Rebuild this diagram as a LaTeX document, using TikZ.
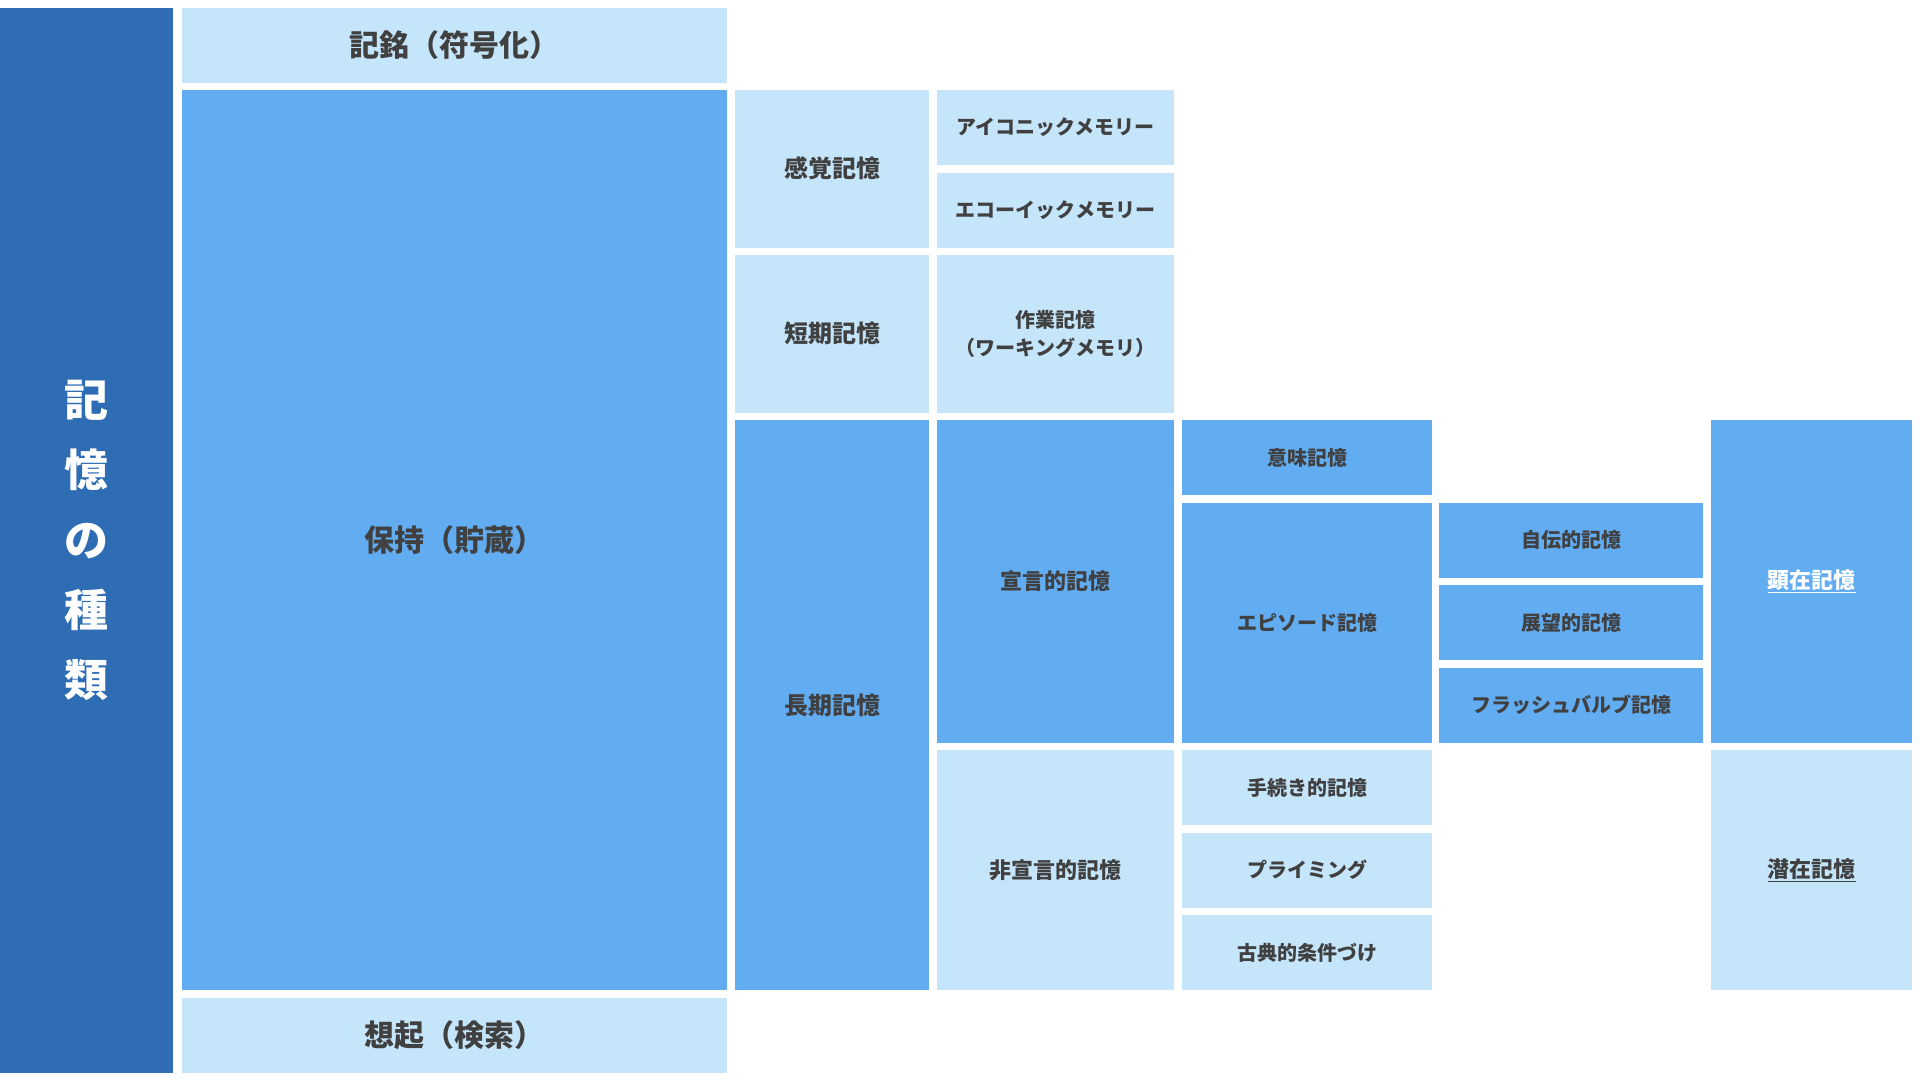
\documentclass[tikz,border=0pt]{standalone}
\usepackage{fontspec}
\setmainfont{Noto Sans CJK JP}
\definecolor{bardark}{HTML}{2E6DB4}
\definecolor{boxmid}{HTML}{62ADF2}
\definecolor{boxlite}{HTML}{C5E5FA}
\definecolor{inkgray}{HTML}{404040}
\tikzset{
	cell/.style={rectangle, inner sep=0pt, align=center, text=inkgray,
		font=\bfseries\fontsize{20}{28}\selectfont},
	mid/.style={cell, fill=boxmid},
	lite/.style={cell, fill=boxlite},
	huge/.style={font=\bfseries\fontsize{30}{36}\selectfont},
	large/.style={font=\bfseries\fontsize{24}{30}\selectfont},
	medium/.style={font=\bfseries\fontsize{22}{28}\selectfont},
	bar/.style={rectangle, inner sep=0pt, align=center, fill=bardark, text=white,
		font=\bfseries\fontsize{44}{70}\selectfont}
}

\begin{document}
\begin{tikzpicture}[x=1pt, y=-1pt]
	\useasboundingbox (0,0) rectangle (1920,1080);
	\begin{scope}
		% title bar
		\node[bar, minimum width=173pt, minimum height=1065pt] (title) at (86.5, 540) {記\\憶\\の\\種\\類};

		% stages
		\node[lite, huge, minimum width=545pt, minimum height=75pt ] (kimei) at (454.5, 45)  {記銘（符号化）};
		\node[mid,  huge, minimum width=545pt, minimum height=900pt] (hoji)  at (454.5, 540) {保持（貯蔵）};
		\node[lite, huge, minimum width=545pt, minimum height=75pt ] (soki)  at (454.5, 1035) {想起（検索）};

		% storage
		\node[lite, large, minimum width=194pt, minimum height=157.5pt] (kankaku) at (832, 168.75) {感覚記憶};
		\node[lite, large, minimum width=194pt, minimum height=157.5pt] (tanki)   at (832, 333.75) {短期記憶};
		\node[mid,  large, minimum width=194pt, minimum height=570pt  ] (choki)   at (832, 705)    {長期記憶};

		\node[lite,         minimum width=237pt, minimum height=75pt   ] (iconic)  at (1055.5, 127.5)  {アイコニックメモリー};
		\node[lite,         minimum width=237pt, minimum height=75pt   ] (echoic)  at (1055.5, 210)    {エコーイックメモリー};
		\node[lite,         minimum width=237pt, minimum height=157.5pt] (sagyo)   at (1055.5, 333.75) {作業記憶\\（ワーキングメモリ）};
		\node[mid,  medium, minimum width=237pt, minimum height=322.5pt] (sengen)  at (1055.5, 581.25) {宣言的記憶};
		\node[lite, medium, minimum width=237pt, minimum height=240pt  ] (hisengen) at (1055.5, 870)   {非宣言的記憶};

		% long-term details
		\node[mid,  minimum width=250pt, minimum height=75pt ] (imi)      at (1307, 457.5) {意味記憶};
		\node[mid,  minimum width=250pt, minimum height=240pt] (episode)  at (1307, 622.5) {エピソード記憶};
		\node[lite, minimum width=250pt, minimum height=75pt ] (tetsuzuki) at (1307, 787.5) {手続き的記憶};
		\node[lite, minimum width=250pt, minimum height=75pt ] (priming)  at (1307, 870)   {プライミング};
		\node[lite, minimum width=250pt, minimum height=75pt ] (koten)    at (1307, 952.5) {古典的条件づけ};

		\node[mid, minimum width=264pt, minimum height=75pt] (jiden)  at (1571, 540)   {自伝的記憶};
		\node[mid, minimum width=264pt, minimum height=75pt] (tenbo)  at (1571, 622.5) {展望的記憶};
		\node[mid, minimum width=264pt, minimum height=75pt] (flash)  at (1571, 705)   {フラッシュバルブ記憶};

		% explicit / implicit
		\node[mid,  medium, text=white, minimum width=201pt, minimum height=322.5pt] (kenzai) at (1811.5, 581.25) {\underline{顕在記憶}};
		\node[lite, medium,             minimum width=201pt, minimum height=240pt  ] (senzai) at (1811.5, 870)    {\underline{潜在記憶}};
	\end{scope}
\end{tikzpicture}
\end{document}
